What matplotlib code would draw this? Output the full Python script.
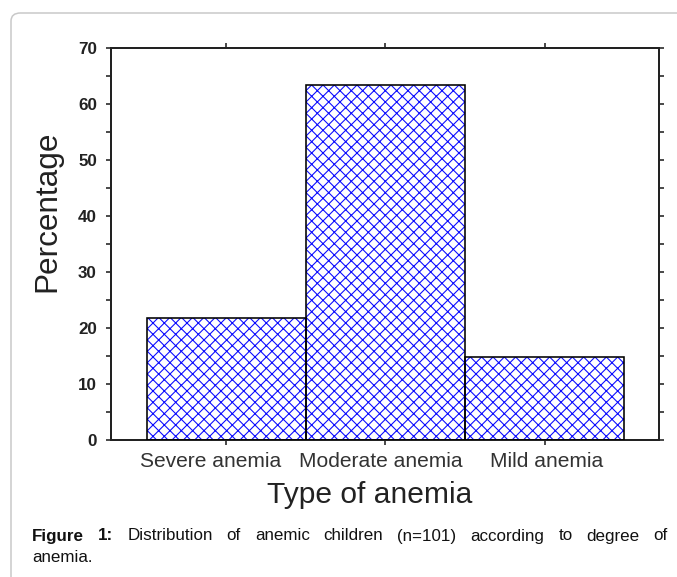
import matplotlib
matplotlib.use("Agg")
import matplotlib.pyplot as plt
import matplotlib.transforms as mtransforms
from matplotlib.patches import FancyBboxPatch
import numpy as np

categories = ["Severe anemia", "Moderate anemia", "Mild anemia"]
percentages = [21.8, 63.4, 14.9]
y_ticks = [0, 10, 20, 30, 40, 50, 60, 70]
x_label = "Type of anemia"
y_label = "Percentage"
caption_bold = ["Figure", "1:"]
caption_line1 = ["Distribution", "of", "anemic", "children", "(n=101)", "according", "to", "degree", "of"]
caption_line2 = "anemia."

W, H, DPI = 677, 577, 68
def pt(px):
    return px * 72.0 / DPI

plt.rcParams['font.family'] = ['Liberation Sans', 'DejaVu Sans']
plt.rcParams['hatch.linewidth'] = 1.15
fig = plt.figure(figsize=(W / DPI, H / DPI), dpi=DPI)

# border box
box = FancyBboxPatch((11 / W, -0.1), 1.2, (H - 13) / H + 0.1,
                     boxstyle="round,pad=0,rounding_size=0.014",
                     transform=fig.transFigure, facecolor='none',
                     edgecolor='#c8c8c8', linewidth=pt(1.5), zorder=-1)
fig.patches.append(box)

ax_l, ax_r, ax_t, ax_b = 111, 659, 48, 440
ax = fig.add_axes([ax_l / W, 1 - ax_b / H, (ax_r - ax_l) / W, (ax_b - ax_t) / H])
ax.set_facecolor('none')
x = np.arange(len(categories))
ax.bar(x, percentages, width=1.0, color='white', edgecolor='#0a0aff',
       hatch='xx', linewidth=0, zorder=2)
ax.bar(x, percentages, width=1.0, fill=False, edgecolor='black',
       linewidth=pt(1.6), zorder=3)

ax.set_xlim(-0.726, 2.72)
ax.set_ylim(0, 70)
ax.set_yticks(y_ticks)
ax.set_yticks(np.arange(5, 70, 10), minor=True)
ax.set_xticks(x)
ax.set_xticklabels(categories, fontsize=pt(21), color='#333333')
ax.set_yticklabels([str(v) for v in y_ticks], fontsize=pt(17), fontweight='bold', color='#222222')
ax.tick_params(axis='both', which='both', direction='out', length=pt(5), width=pt(1.6),
               color='#222222')
ax.tick_params(axis='y', which='both', left=True, right=True, pad=pt(9))
ax.tick_params(axis='x', top=True, bottom=True, pad=pt(7))
for s in ax.spines.values():
    s.set_linewidth(pt(2))
    s.set_color('#222222')

# shift category labels to where they sit in the reference
shifts_px = [-16, -5, 2]
for lab, dx in zip(ax.get_xticklabels(), shifts_px):
    lab.set_transform(lab.get_transform() +
                      mtransforms.ScaledTranslation(dx / DPI, 0, fig.dpi_scale_trans))

ax.set_xlabel(x_label, fontsize=pt(30), color='#222222')
ax.xaxis.label.set_va('baseline')
ax.xaxis.set_label_coords((370 - ax_l) / (ax_r - ax_l), (ax_b - 503) / (ax_b - ax_t))
ax.set_ylabel(y_label, fontsize=pt(31.5), color='#222222')
ax.yaxis.set_label_coords((62 - ax_l) / (ax_r - ax_l), (ax_b - 211.5) / (ax_b - ax_t))

# caption, justified first line
fig.canvas.draw()
r = fig.canvas.get_renderer()
fs = pt(17)
y1 = 1 - 536 / H
items = []
for w in caption_bold:
    t = fig.text(0, y1, w, fontsize=fs, fontweight='bold', va='center', color='#111111')
    items.append(t)
for w in caption_line1:
    t = fig.text(0, y1, w, fontsize=fs, va='center', color='#111111')
    items.append(t)
widths = [t.get_window_extent(r).width for t in items]
x0, x1 = 32, 668
gap = (x1 - x0 - sum(widths)) / (len(items) - 1)
xp = x0
for t, wd in zip(items, widths):
    t.set_x(xp / W)
    xp += wd + gap
fig.text(x0 / W, 1 - 558 / H, caption_line2, fontsize=fs, va='center', color='#111111')

fig.savefig("out.png", dpi=DPI)
